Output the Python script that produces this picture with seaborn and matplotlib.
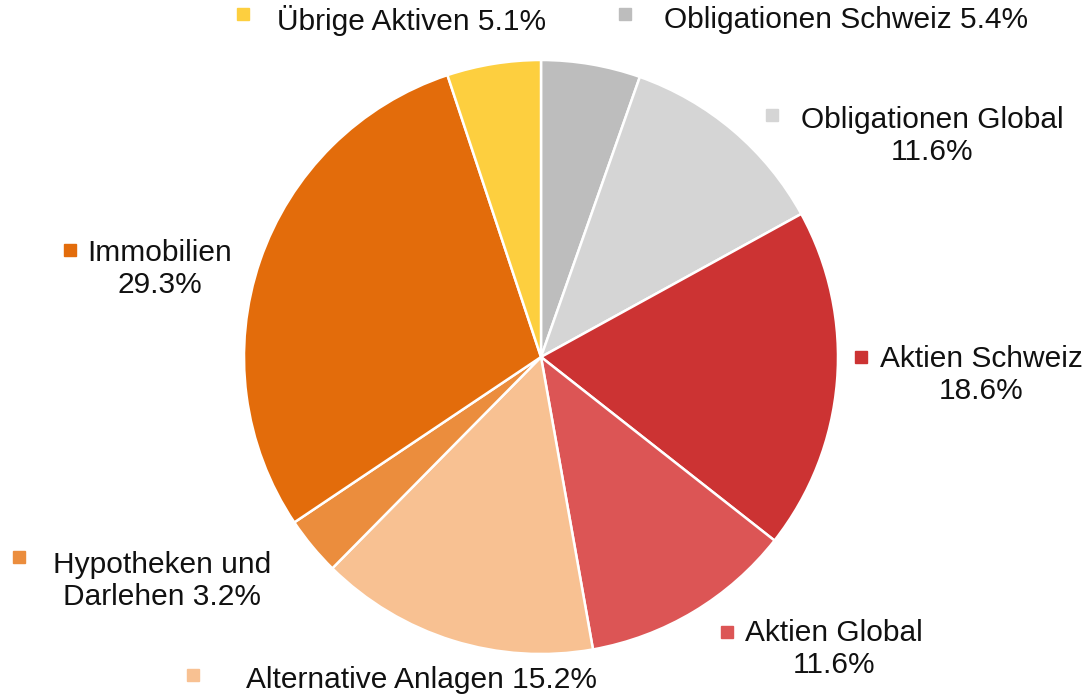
import matplotlib
matplotlib.use("Agg")
import matplotlib.pyplot as plt
import seaborn as sns

# data
labels = ["Obligationen Schweiz", "Obligationen Global", "Aktien Schweiz", "Aktien Global",
          "Alternative Anlagen", "Hypotheken und Darlehen", "Immobilien", "Übrige Aktiven"]
shares = [5.4, 11.6, 18.6, 11.6, 15.2, 3.2, 29.3, 5.1]
colors = ["#BDBDBD", "#D5D5D5", "#CC3333", "#DC5555", "#F8C192", "#EB8D3D", "#E36C0B", "#FDCF3F"]
label_texts = ["Obligationen Schweiz 5.4%", "Obligationen Global\n11.6%", "Aktien Schweiz\n18.6%",
               "Aktien Global\n11.6%", "Alternative Anlagen 15.2%", "Hypotheken und\nDarlehen 3.2%",
               "Immobilien\n29.3%", "Übrige Aktiven 5.1%"]

# layout (pixel positions, y from top)
text_pos = [(846, 20), (932, 136), (981, 375), (834, 649), (421, 680), (162, 581), (160, 269), (412, 20)]
marker_pos = [(625, 14), (772, 115), (861, 357), (727, 632), (193, 675), (19, 557), (70, 250), (243, 14)]

sns.set_theme(style="white")
plt.rcParams["font.family"] = ["Liberation Sans", "DejaVu Sans"]

W, H = 1091, 698
fig = plt.figure(figsize=(W / 100, H / 100), dpi=100)
ax = fig.add_axes([0, 0, 1, 1])

ax.pie(shares, colors=colors, startangle=90, counterclock=False,
       center=(541, H - 357), radius=297,
       wedgeprops=dict(edgecolor="white", linewidth=1.8))
ax.set_xlim(0, W)
ax.set_ylim(0, H)
ax.set_aspect("equal")
ax.axis("off")

for txt, (tx, ty), (mx, my), c in zip(label_texts, text_pos, marker_pos, colors):
    ax.text(tx, H - ty, txt, ha="center", va="center", multialignment="center",
            fontsize=21.5, color="#111111", linespacing=1.22)
    ax.plot([mx], [H - my], marker="s", markersize=8.5, color=c, linestyle="none")

fig.savefig("out.png", dpi=100)
